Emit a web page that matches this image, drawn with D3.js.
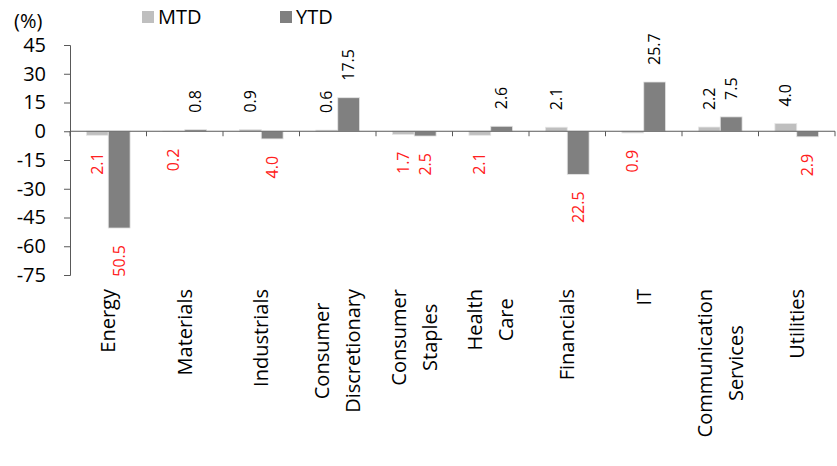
<!DOCTYPE html>
<html>
<head>
<meta charset="utf-8">
<script src="https://cdn.jsdelivr.net/npm/d3@7"></script>
<style>
  html, body { margin: 0; padding: 0; background: #fff; }
  svg { display: block; font-family: "Open Sans", "Noto Sans", sans-serif; }
</style>
</head>
<body>
<svg id="chart" width="837" height="466"></svg>
<script>
// Sector returns (%), month-to-date and year-to-date
const categories = ["Energy", "Materials", "Industrials", "Consumer Discretionary", "Consumer Staples",
  "Health Care", "Financials", "IT", "Communication Services", "Utilities"];
const categoryLines = [["Energy"], ["Materials"], ["Industrials"], ["Consumer", "Discretionary"],
  ["Consumer", "Staples"], ["Health", "Care"], ["Financials"], ["IT"], ["Communication", "Services"], ["Utilities"]];
const seriesNames = ["MTD", "YTD"];
const mtd = [-2.1, -0.2, 0.9, 0.6, -1.7, -2.1, 2.1, -0.9, 2.2, 4.0];
const ytd = [-50.5, 0.8, -4.0, 17.5, -2.5, 2.6, -22.5, 25.7, 7.5, -2.9];
const yTicks = [45, 30, 15, 0, -15, -30, -45, -60, -75];
const colors = { MTD: "#bfbfbf", YTD: "#808080" };

const svg = d3.select("#chart");
const plot = { left: 70, right: 835, top: 45, bottom: 275 };

const y = d3.scaleLinear().domain([-75, 45]).range([plot.bottom, plot.top]);
const x = d3.scaleBand().domain(categories).range([plot.left, plot.right]).padding(0);
const x1 = d3.scaleBand().domain(seriesNames).range([0, x.bandwidth()])
  .paddingInner(0).paddingOuter(0.75);

const rows = categories.map((c, i) => ({ cat: c, lines: categoryLines[i], MTD: mtd[i], YTD: ytd[i] }));

// Y axis
const yAxis = d3.axisLeft(y).tickValues(yTicks).tickSize(6).tickPadding(18)
  .tickFormat(d3.format("d"));
const gy = svg.append("g").attr("transform", `translate(${plot.left},0)`).call(yAxis);
gy.select(".domain").attr("stroke", "#595959");
gy.selectAll(".tick line").attr("stroke", "#595959");
gy.selectAll(".tick text").attr("font-size", 20).attr("fill", "#000")
  .attr("font-family", "Open Sans").text(d => d < 0 ? "-" + Math.abs(d) : d);

// Bars
const groups = svg.append("g").selectAll("g").data(rows).join("g")
  .attr("transform", d => `translate(${x(d.cat)},0)`);

groups.selectAll("rect").data(d => seriesNames.map(k => ({ key: k, value: d[k] }))).join("rect")
  .attr("x", d => x1(d.key))
  .attr("width", x1.bandwidth())
  .attr("y", d => y(Math.max(0, d.value)))
  .attr("height", d => Math.abs(y(d.value) - y(0)))
  .attr("fill", d => colors[d.key])
  .attr("stroke", "#e6e6e6").attr("stroke-width", 0.8);

// Value labels, rotated; negatives shown in red without sign
groups.selectAll("text.val").data(d => seriesNames.map(k => ({ key: k, value: d[k] }))).join("text")
  .attr("class", "val")
  .attr("transform", d => {
    const cx = x1(d.key) + x1.bandwidth() / 2;
    const yy = d.value >= 0 ? y(d.value) - 17 : y(d.value) + 17;
    return `translate(${cx},${yy}) rotate(-90)`;
  })
  .attr("text-anchor", d => d.value >= 0 ? "start" : "end")
  .attr("dy", "0.35em")
  .attr("font-size", 16)
  .attr("fill", d => d.value >= 0 ? "#000" : "#ff2020")
  .text(d => Math.abs(d.value).toFixed(1));

// X axis at zero
const xAxisG = svg.append("g");
xAxisG.append("line").attr("x1", plot.left).attr("x2", plot.right)
  .attr("y1", y(0)).attr("y2", y(0)).attr("stroke", "#595959");
const boundaries = categories.map(c => x(c) + x.bandwidth()).concat([x(categories[0])]);
xAxisG.selectAll("line.tk").data(boundaries).join("line").attr("class", "tk")
  .attr("x1", d => d).attr("x2", d => d)
  .attr("y1", y(0)).attr("y2", y(0) + 5).attr("stroke", "#595959");

// Category labels, rotated, lines centred on each other
const labelTop = 289, lineGap = 31;
rows.forEach(r => {
  const g = svg.append("g");
  const n = r.lines.length;
  const cx = x(r.cat) + x.bandwidth() / 2;
  const texts = r.lines.map((ln, i) => {
    const lx = cx + (i - (n - 1) / 2) * lineGap;
    return g.append("text").attr("font-size", 20).attr("fill", "#000")
      .attr("text-anchor", "middle").attr("dy", "0.35em")
      .attr("data-x", lx).text(ln);
  });
  const maxLen = d3.max(texts, t => t.node().getComputedTextLength());
  texts.forEach(t => {
    t.attr("transform", `translate(${t.attr("data-x")},${labelTop + maxLen / 2}) rotate(-90)`)
      .attr("data-x", null);
  });
});

// Unit label
svg.append("text").attr("x", 14).attr("y", 28).attr("font-size", 20).attr("fill", "#000").text("(%)");

// Legend
const legend = svg.append("g");
const legendItems = [{ key: "MTD", x: 142 }, { key: "YTD", x: 280 }];
legend.selectAll("rect").data(legendItems).join("rect")
  .attr("x", d => d.x).attr("y", 11).attr("width", 12).attr("height", 12)
  .attr("fill", d => colors[d.key]);
legend.selectAll("text").data(legendItems).join("text")
  .attr("x", d => d.x + 16).attr("y", 24).attr("font-size", 20).attr("fill", "#000")
  .text(d => d.key);
</script>
</body>
</html>
